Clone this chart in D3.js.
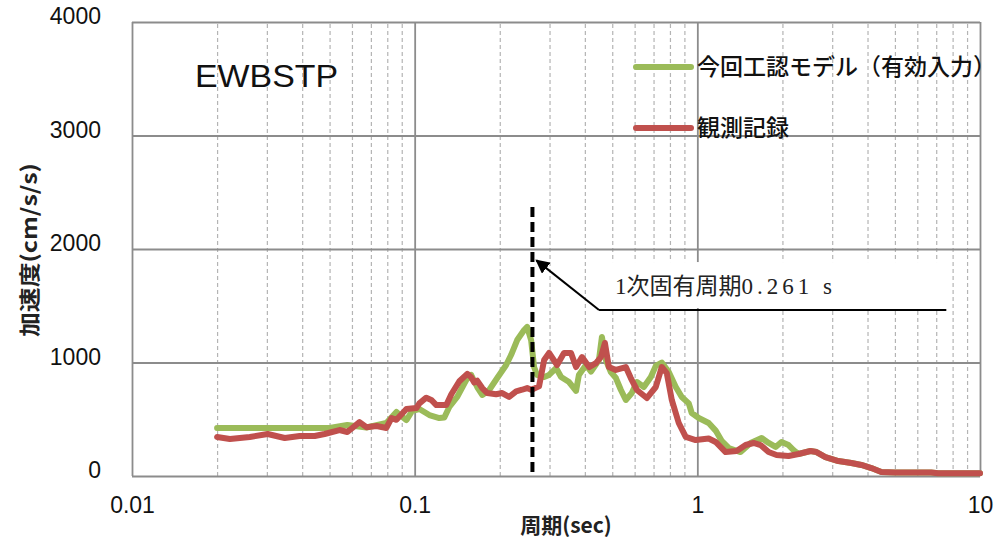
<!DOCTYPE html>
<html>
<head>
<meta charset="utf-8">
<script src="https://cdn.jsdelivr.net/npm/d3@7"></script>
<style>
  html, body { margin: 0; padding: 0; background: #fff; }
  svg { display: block; }
</style>
</head>
<body>
<svg id="chart" width="1005" height="538"></svg>
<script>
// Response spectrum, EW direction (EWBSTP): model vs. observed record
const seriesNames = ["今回工認モデル（有効入力）", "観測記録"];
const seriesColors = ["#9bbb59", "#c0504d"];

// Period (s) / acceleration (cm/s/s) pairs for the model input
const modelPeriod = [0.0200, 0.0500, 0.0578, 0.0675, 0.0794, 0.0862, 0.0883, 0.0935, 0.0981, 0.1039,
  0.1127, 0.1222, 0.1273, 0.1326, 0.1416, 0.1522, 0.1585, 0.1664, 0.1734, 0.1835,
  0.1959, 0.2107, 0.2193, 0.2305, 0.2439, 0.2500, 0.2582, 0.2645, 0.2710, 0.2871,
  0.2989, 0.3164, 0.3296, 0.3517, 0.3723, 0.3811, 0.4036, 0.4207, 0.4487, 0.4597,
  0.4750, 0.4943, 0.5152, 0.5366, 0.5585, 0.5864, 0.6111, 0.6467, 0.6848, 0.7129,
  0.7484, 0.7925, 0.8390, 0.8808, 0.9326, 0.9555, 1.0116, 1.097, 1.161, 1.219,
  1.291, 1.422, 1.543, 1.688, 1.787, 1.892, 1.985, 2.102, 2.189, 2.280,
  2.513, 2.640, 2.839, 3.155, 3.508, 3.805, 4.127, 4.478, 5.015, 5.71,
  6.72, 7.11, 10.0];
const modelAccel = [423, 423, 450, 427, 467, 564, 540, 493, 575, 590,
  537, 511, 515, 608, 700, 846, 890, 784, 714, 758,
  863, 978, 1066, 1198, 1286, 1313, 1198, 960, 890, 872,
  890, 951, 872, 828, 750, 890, 978, 920, 1022, 1225,
  1020, 916, 863, 758, 670, 731, 828, 784, 872, 970,
  1000, 916, 784, 696, 640, 555, 511, 467, 400, 310,
  247, 211, 291, 335, 291, 256, 300, 273, 229, 194,
  220, 211, 167, 132, 115, 97, 70, 35, 30, 30,
  30, 24, 24];

// Period (s) / acceleration (cm/s/s) pairs for the observed record
const obsPeriod = [0.0200, 0.0222, 0.0261, 0.0302, 0.0347, 0.0392, 0.0443, 0.0480, 0.0542, 0.0578,
  0.0638, 0.0675, 0.0733, 0.0794, 0.0828, 0.0862, 0.0935, 0.1014, 0.1039, 0.1099,
  0.1145, 0.1193, 0.1294, 0.1348, 0.1439, 0.1535, 0.1585, 0.1624, 0.1664, 0.1734,
  0.1806, 0.1942, 0.2040, 0.2158, 0.2286, 0.2399, 0.2500, 0.2582, 0.2645, 0.2754,
  0.2871, 0.2989, 0.3190, 0.3375, 0.3574, 0.3723, 0.3908, 0.4140, 0.4378, 0.4560,
  0.4710, 0.4864, 0.5152, 0.5585, 0.5816, 0.6111, 0.6627, 0.7129, 0.7484, 0.7795,
  0.8121, 0.8596, 0.9099, 0.9866, 1.097, 1.161, 1.259, 1.377, 1.482, 1.581,
  1.674, 1.787, 1.906, 2.102, 2.280, 2.513, 2.640, 2.839, 3.155, 3.508,
  3.805, 4.127, 4.478, 5.015, 5.71, 6.72, 7.11, 10.0];
const obsAccel = [344, 326, 344, 370, 335, 352, 352, 370, 405, 388,
  475, 430, 440, 423, 511, 495, 590, 599, 640, 690,
  670, 625, 625, 720, 835, 900, 870, 825, 840, 775,
  731, 720, 731, 696, 745, 760, 775, 760, 770, 790,
  1022, 1084, 978, 1084, 1084, 960, 1048, 960, 995, 1048,
  1172, 960, 934, 960, 863, 758, 687, 784, 960, 907,
  670, 467, 344, 317, 330, 300, 211, 220, 273, 291,
  273, 211, 185, 176, 194, 220, 211, 167, 132, 115,
  97, 70, 35, 30, 30, 30, 24, 24];

// Axis ticks
const xMajorTicks = [0.01, 0.1, 1, 10];
const xTickLabels = ["0.01", "0.1", "1", "10"];
const yTicks = [0, 1000, 2000, 3000, 4000];
const yTickLabels = ["0", "1000", "2000", "3000", "4000"];

// First natural period annotation
const naturalPeriod = 0.261;
const periodLabelKanji = "1次固有周期";
const periodLabelValue = "0.261 s";
const markerTop = 2370;
const arrowTip = [0.261, 1900];
const leaderElbow = [0.449, 1463];
const leaderEnd = [7.6, 1463];
const labelBox = [0.449, 7.75, 1885, 1480];

const svg = d3.select("#chart");
const W = 1005, H = 538;
const m = { left: 132, right: 980, top: 22, bottom: 476 };

const x = d3.scaleLog().domain([0.01, 10]).range([m.left, m.right]);
const y = d3.scaleLinear().domain([0, 4000]).range([m.bottom, m.top]);

svg.append("rect").attr("width", W).attr("height", H).attr("fill", "#fff");

// Minor (dashed) period gridlines: 2..9 within each decade
const minorTicks = [];
[0.01, 0.1, 1].forEach(d => { for (let k = 2; k <= 9; k++) minorTicks.push(d * k); });

const grid = svg.append("g");
grid.append("g")
  .attr("transform", `translate(0,${m.bottom})`)
  .call(d3.axisBottom(x).tickValues(minorTicks).tickSize(-(m.bottom - m.top)).tickFormat(""))
  .call(g => g.select(".domain").remove())
  .call(g => g.selectAll("line").attr("stroke", "#b4b4b4").attr("stroke-width", 1.2).attr("stroke-dasharray", "4,3"));

// Major gridlines
grid.append("g")
  .attr("transform", `translate(0,${m.bottom})`)
  .call(d3.axisBottom(x).tickValues(xMajorTicks).tickSize(-(m.bottom - m.top)).tickFormat(""))
  .call(g => g.select(".domain").remove())
  .call(g => g.selectAll("line").attr("stroke", "#8c8c8c").attr("stroke-width", 1.8));
grid.append("g")
  .attr("transform", `translate(${m.left},0)`)
  .call(d3.axisLeft(y).tickValues(yTicks).tickSize(-(m.right - m.left)).tickFormat(""))
  .call(g => g.select(".domain").remove())
  .call(g => g.selectAll("line").attr("stroke", "#8c8c8c").attr("stroke-width", 1.8));

// Tick labels
const xAxis = svg.append("g")
  .attr("transform", `translate(0,${m.bottom})`)
  .call(d3.axisBottom(x).tickValues(xMajorTicks).tickSize(0).tickPadding(21)
    .tickFormat((d, i) => xTickLabels[i]));
xAxis.select(".domain").remove();
xAxis.selectAll("text")
  .attr("font-family", "'Liberation Sans', Arial, sans-serif")
  .attr("font-size", 23).attr("fill", "#111");

const yAxis = svg.append("g")
  .attr("transform", `translate(${m.left},0)`)
  .call(d3.axisLeft(y).tickValues(yTicks).tickSize(0).tickPadding(31)
    .tickFormat((d, i) => yTickLabels[i]));
yAxis.select(".domain").remove();
yAxis.selectAll("text")
  .attr("font-family", "'Liberation Sans', Arial, sans-serif")
  .attr("font-size", 23).attr("fill", "#111").attr("dy", "0.08em");

// Axis titles
svg.append("text")
  .attr("transform", "translate(37,250) rotate(-90)")
  .attr("text-anchor", "middle")
  .attr("font-family", "'Noto Sans CJK JP', 'Liberation Sans', sans-serif")
  .attr("font-size", 21).attr("font-weight", "bold").attr("fill", "#222")
  .attr("textLength", 174).attr("lengthAdjust", "spacingAndGlyphs")
  .text("加速度(cm/s/s)");
svg.append("text")
  .attr("x", 566).attr("y", 533)
  .attr("text-anchor", "middle")
  .attr("font-family", "'Noto Sans CJK JP', 'Liberation Sans', sans-serif")
  .attr("font-size", 21).attr("font-weight", "bold").attr("fill", "#222")
  .text("周期(sec)");

// Chart title inside the plot
svg.append("text")
  .attr("x", 195).attr("y", 87)
  .attr("font-family", "'Liberation Sans', Arial, sans-serif")
  .attr("font-size", 32).attr("fill", "#111")
  .attr("textLength", 143).attr("lengthAdjust", "spacingAndGlyphs")
  .text("EWBSTP");

// Annotation box (blank background behind the label)
svg.append("rect")
  .attr("x", x(labelBox[0])).attr("y", y(labelBox[2]))
  .attr("width", x(labelBox[1]) - x(labelBox[0]))
  .attr("height", y(labelBox[3]) - y(labelBox[2]))
  .attr("fill", "#fff");

// Spectra
const line = d3.line().x(d => x(d[0])).y(d => y(d[1]));
const modelData = modelPeriod.map((p, i) => [p, modelAccel[i]]);
const obsData = obsPeriod.map((p, i) => [p, obsAccel[i]]);

svg.append("path").datum(modelData)
  .attr("d", line).attr("fill", "none")
  .attr("stroke", seriesColors[0]).attr("stroke-width", 6)
  .attr("stroke-linejoin", "round").attr("stroke-linecap", "round");
svg.append("path").datum(obsData)
  .attr("d", line).attr("fill", "none")
  .attr("stroke", seriesColors[1]).attr("stroke-width", 6)
  .attr("stroke-linejoin", "round").attr("stroke-linecap", "round");

// Natural period marker
svg.append("line")
  .attr("x1", x(naturalPeriod)).attr("x2", x(naturalPeriod))
  .attr("y1", y(markerTop)).attr("y2", y(0))
  .attr("stroke", "#000").attr("stroke-width", 4)
  .attr("stroke-dasharray", "10,5");

// Leader line with arrow
svg.append("defs").append("marker")
  .attr("id", "arrowhead")
  .attr("viewBox", "0 0 10 10").attr("refX", 9).attr("refY", 5)
  .attr("markerWidth", 7).attr("markerHeight", 7)
  .attr("markerUnits", "strokeWidth")
  .attr("orient", "auto")
  .append("path").attr("d", "M0,0 L10,5 L0,10 z").attr("fill", "#000");

svg.append("line")
  .attr("x1", x(leaderElbow[0])).attr("y1", y(leaderElbow[1]))
  .attr("x2", x(arrowTip[0]) + 4).attr("y2", y(arrowTip[1]))
  .attr("stroke", "#000").attr("stroke-width", 2)
  .attr("marker-end", "url(#arrowhead)");
svg.append("line")
  .attr("x1", x(leaderElbow[0])).attr("y1", y(leaderElbow[1]))
  .attr("x2", x(leaderEnd[0])).attr("y2", y(leaderEnd[1]))
  .attr("stroke", "#000").attr("stroke-width", 2);

const label = svg.append("text")
  .attr("x", 615).attr("y", 294)
  .attr("font-family", "'Liberation Serif', 'Noto Sans CJK JP', serif")
  .attr("font-size", 23).attr("fill", "#222");
label.append("tspan").text(periodLabelKanji);
label.append("tspan").attr("letter-spacing", 4).text(periodLabelValue);

// Legend
const legend = svg.append("g");
const legendY = [67, 128];
seriesNames.forEach((name, i) => {
  legend.append("line")
    .attr("x1", 636).attr("x2", 691)
    .attr("y1", legendY[i]).attr("y2", legendY[i])
    .attr("stroke", seriesColors[i]).attr("stroke-width", 6)
    .attr("stroke-linecap", "round");
  legend.append("text")
    .attr("x", 697).attr("y", legendY[i])
    .attr("dy", "0.36em")
    .attr("font-family", "'Noto Sans CJK JP', sans-serif")
    .attr("font-size", 23).attr("font-weight", 500).attr("fill", "#111")
    .text(name);
});
</script>
</body>
</html>
